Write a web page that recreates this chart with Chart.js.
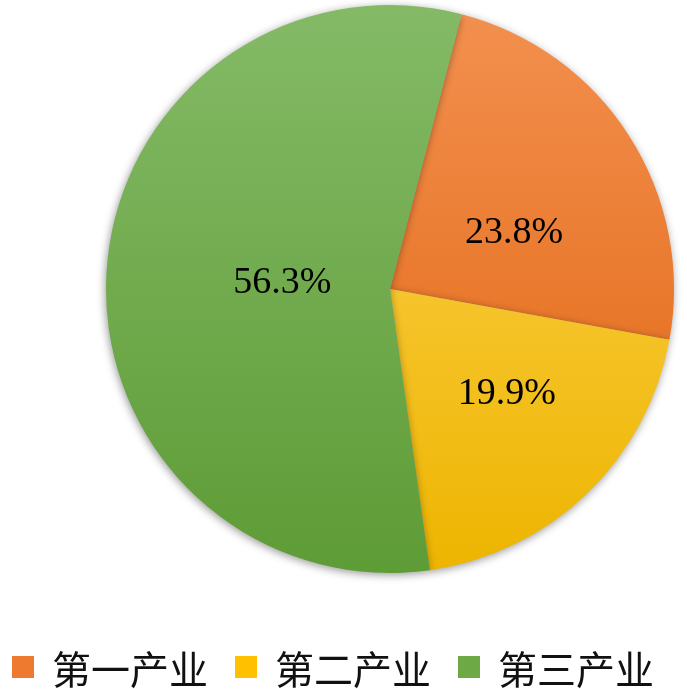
<!DOCTYPE html>
<html>
<head>
<meta charset="utf-8">
<script src="https://cdn.jsdelivr.net/npm/chart.js@4/dist/chart.umd.min.js"></script>
<style>
  html, body { margin: 0; padding: 0; background: #fff; }
  #wrap { position: relative; width: 687px; height: 689px; overflow: hidden; }
  #c { position: absolute; left: 0; top: 0; }
  #legend { position: absolute; left: 12px; top: 646px; width: 675px; display: flex; align-items: center;
            font-family: "Noto Sans CJK SC", sans-serif; font-size: 39px; line-height: 42px; color: #111;
            white-space: nowrap; }
  .item { display: flex; align-items: center; margin-right: 27px; flex-shrink: 0; }
  .sw { width: 22px; height: 22px; margin-right: 18px; flex-shrink: 0; }
</style>
</head>
<body>
<div id="wrap">
  <canvas id="c" width="687" height="689"></canvas>
  <div id="legend"></div>
</div>
<script>
// ---- data ----
const categories = ['第一产业', '第二产业', '第三产业'];
const shares = [23.8, 19.9, 56.3];

// ---- style ----
const gradStops = [
  ['#F3904F', '#E0640E'],
  ['#FFD458', '#EDB500'],
  ['#84BA66', '#5E9C36']
];
const legendColors = ['#EE7A30', '#FFC000', '#6DAA45'];
const labelPlace = [ {da: 8, rf: 0.48}, {da: -4.5, rf: 0.55}, {da: 0.5, rf: 0.38} ];

function sliceColor(ctx) {
  const chart = ctx.chart;
  const area = chart.chartArea;
  const i = ctx.dataIndex;
  if (!area) return gradStops[i][0];
  const g = chart.ctx.createLinearGradient(0, area.top, 0, area.bottom);
  g.addColorStop(0, gradStops[i][0]);
  g.addColorStop(1, gradStops[i][1]);
  return g;
}

const shadowPlugin = {
  id: 'shadow',
  beforeDatasetsDraw(chart) {
    const c = chart.ctx;
    c.save();
    c.shadowColor = 'rgba(0,0,0,0.4)';
    c.shadowBlur = 8;
    c.shadowOffsetX = -1;
    c.shadowOffsetY = 2;
  },
  afterDatasetsDraw(chart) {
    chart.ctx.restore();
  }
};

const labelPlugin = {
  id: 'pctLabels',
  afterDraw(chart) {
    const c = chart.ctx;
    const meta = chart.getDatasetMeta(0);
    c.save();
    c.font = '38px "Liberation Serif", "Times New Roman", serif';
    c.fillStyle = '#000';
    c.textAlign = 'center';
    c.textBaseline = 'middle';
    meta.data.forEach((arc, i) => {
      const p = arc.getProps(['x', 'y', 'startAngle', 'endAngle', 'outerRadius'], true);
      const mid = (p.startAngle + p.endAngle) / 2 + labelPlace[i].da * Math.PI / 180;
      const r = p.outerRadius * labelPlace[i].rf;
      const x = p.x + Math.cos(mid) * r;
      const y = p.y + Math.sin(mid) * r;
      c.fillText(shares[i].toFixed(1) + '%', x, y + 1);
    });
    c.restore();
  }
};

new Chart(document.getElementById('c'), {
  type: 'pie',
  data: {
    labels: categories,
    datasets: [{
      data: shares,
      backgroundColor: sliceColor,
      borderWidth: 0
    }]
  },
  options: {
    responsive: false,
    animation: false,
    rotation: 14.6,
    layout: { padding: { top: 5, bottom: 116, left: 93, right: 0 } },
    plugins: {
      legend: { display: false },
      tooltip: { enabled: false }
    }
  },
  plugins: [shadowPlugin, labelPlugin]
});

const leg = document.getElementById('legend');
categories.forEach((name, i) => {
  const it = document.createElement('div');
  it.className = 'item';
  const sw = document.createElement('div');
  sw.className = 'sw';
  sw.style.background = legendColors[i];
  const tx = document.createElement('span');
  tx.textContent = name;
  it.appendChild(sw);
  it.appendChild(tx);
  leg.appendChild(it);
});
</script>
</body>
</html>
